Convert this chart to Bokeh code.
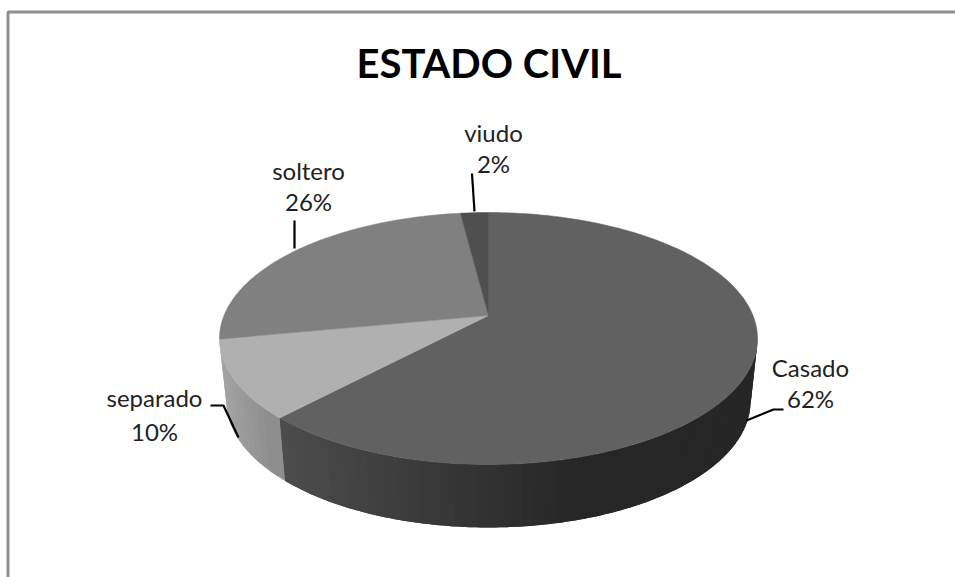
import math

from bokeh.core.properties import value
from bokeh.embed import file_html
from bokeh.models import ColumnDataSource, Range1d
from bokeh.plotting import figure
from bokeh.resources import INLINE

TITLE = "ESTADO CIVIL"
categories = ["Casado", "separado", "soltero", "viudo"]
percents = [62, 10, 26, 2]
percent_labels = ["62%", "10%", "26%", "2%"]
top_colors = ["#616161", "#b0b0b0", "#808080", "#4f4f4f"]

FONT = "Lato"
W, H = 955, 577

# Perspective projection of the unit disc onto the page
CX, APEX_Y = 488.0, 315.0
PERSP = 0.1825
SCALE_X, SCALE_Y = 264.5, -64.3
WALL_DROP = 63.0
WALL_SHRINK = 0.974


def top_point(theta):
    u, v = math.sin(theta), math.cos(theta)
    d = 1 + PERSP * v
    return CX + SCALE_X * u / d, (SCALE_Y * v + APEX_Y) / d


def bottom_point(theta):
    x, y = top_point(theta)
    return CX + WALL_SHRINK * (x - CX), y + WALL_DROP


def gray(level):
    h = int(round(level))
    return f"#{h:02x}{h:02x}{h:02x}"


def lerp(a, b, t):
    return a + (b - a) * min(1.0, max(0.0, t))


def casado_wall_shade(x):
    return lerp(0x4d, 0x26, (x - 280) / (590 - 280))


def separado_wall_shade(x):
    return lerp(0xa2, 0x8a, (x - 226) / (284 - 226))


p = figure(
    width=W, height=H, output_backend="svg", toolbar_location=None,
    x_range=Range1d(0, W), y_range=Range1d(H, 0),
    min_border=0, outline_line_color=None, background_fill_color="white",
)
p.axis.visible = False
p.grid.visible = False

# Chart frame: only the top and left edges are visible
p.line([7.5, 7.5, W], [H, 11.5, 11.5], line_color="#8f8f8f", line_width=3)

# Slice boundaries, clockwise from twelve o'clock
edges = [0.0]
for pct in percents:
    edges.append(edges[-1] + 2 * math.pi * pct / sum(percents))

# Outer wall, as shaded strips; each strip runs under the next one so no seams show
wall_xs, wall_ys, wall_colors = [], [], []
wall_parts = [
    (math.radians(100), edges[1], casado_wall_shade, 60),
    (edges[1], edges[2], separado_wall_shade, 14),
]
for start, stop, shade, steps in wall_parts:
    for i in range(steps):
        a = start + (stop - start) * i / steps
        mid = start + (stop - start) * (i + 0.5) / steps
        b = start + (stop - start) * min(steps, i + 2) / steps
        arc = [a + (b - a) * k / 6 for k in range(7)]
        tops = [top_point(t) for t in arc]
        bots = [bottom_point(t) for t in reversed(arc)]
        wall_xs.append([q[0] for q in tops + bots])
        wall_ys.append([q[1] for q in tops + bots])
        wall_colors.append(gray(shade(top_point(mid)[0])))
# Later strips must lie beneath earlier ones only at their shared edge
p.patches(
    "xs", "ys",
    source=ColumnDataSource(dict(xs=wall_xs[::-1], ys=wall_ys[::-1], color=wall_colors[::-1])),
    fill_color="color", line_color=None,
)

# Top face
top_xs, top_ys = [], []
for i in range(len(percents)):
    n = max(4, int(percents[i] * 4))
    pts = [top_point(edges[i] + (edges[i + 1] - edges[i]) * k / n) for k in range(n + 1)]
    top_xs.append([CX] + [q[0] for q in pts])
    top_ys.append([APEX_Y] + [q[1] for q in pts])
p.patches(
    "xs", "ys",
    source=ColumnDataSource(dict(xs=top_xs, ys=top_ys, color=top_colors)),
    fill_color="color", line_color="color", line_width=0.5,
)

# Leader lines
leader_xs = [[746, 773, 783], [238, 223, 210], [294, 294], [474, 471.5]]
leader_ys = [[420, 409, 409], [437, 405, 405], [248, 220], [211, 173]]
p.multi_line(leader_xs, leader_ys, line_color="black", line_width=2.2)

# Data labels: name above value
label_x = [810, 154, 308, 493]
name_y = [367, 397, 170, 132]
pct_y = [398, 431, 201, 163]
for xs_, ys_, texts in ((label_x, name_y, categories), (label_x, pct_y, percent_labels)):
    p.text(
        xs_, ys_, text=texts, text_font=value(FONT), text_font_size="24px",
        text_align="center", text_baseline="middle", text_color="#222222",
    )

p.text(
    [488.5], [62], text=[TITLE], text_font=value(FONT), text_font_size="40px",
    text_font_style="bold", text_align="center", text_baseline="middle",
    text_color="black",
)

open("out.html", "w").write(file_html(p, INLINE))
